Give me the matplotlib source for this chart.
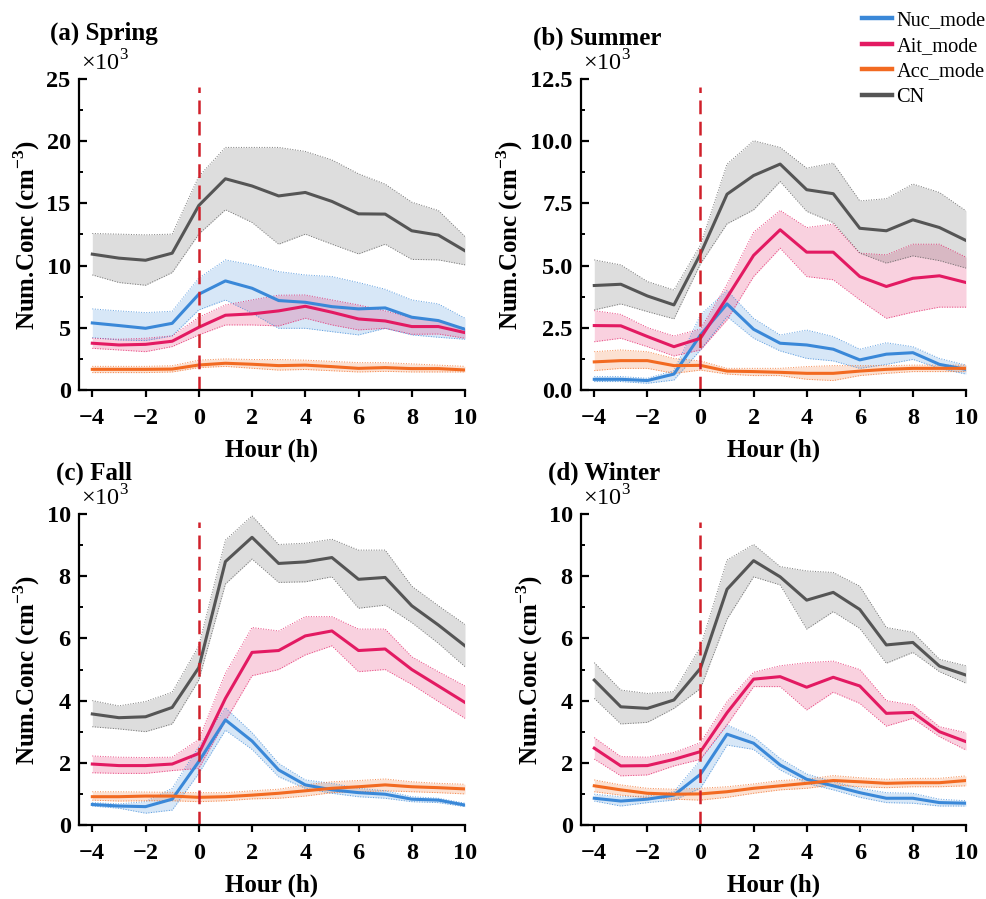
import numpy as np
import matplotlib
matplotlib.use("Agg")
import matplotlib.pyplot as plt
from matplotlib.lines import Line2D
from matplotlib.ticker import MultipleLocator, FormatStrFormatter

plt.rcParams["font.family"] = ["Liberation Serif", "DejaVu Serif"]
plt.rcParams["mathtext.fontset"] = "custom"
plt.rcParams["mathtext.rm"] = "Liberation Serif"
plt.rcParams["mathtext.bf"] = "Liberation Serif:bold"

hours = [-4, -3, -2, -1, 0, 1, 2, 3, 4, 5, 6, 7, 8, 9, 10]
modes = ["Nuc_mode", "Ait_mode", "Acc_mode", "CN"]
colors = ["#3a88d8", "#e31a62", "#f26a21", "#555555"]

# values in 10^3 cm^-3 : mean, lower, upper
# (a) Spring
spring_nuc = [5.39, 5.18, 4.96, 5.36, 7.70, 8.77, 8.18, 7.19, 7.05, 6.70, 6.52, 6.60, 5.85, 5.58, 4.88]
spring_nuc_lo = [4.21, 4.02, 3.97, 4.35, 6.44, 7.24, 6.17, 4.96, 4.96, 4.69, 4.43, 4.96, 4.43, 4.24, 4.08]
spring_nuc_hi = [6.52, 6.36, 6.22, 6.33, 8.99, 10.46, 10.06, 9.52, 9.25, 9.12, 8.64, 8.10, 7.24, 6.92, 5.77]
spring_ait = [3.76, 3.62, 3.67, 3.92, 5.04, 6.01, 6.12, 6.36, 6.73, 6.25, 5.71, 5.55, 5.10, 5.10, 4.61]
spring_ait_lo = [3.35, 3.22, 3.08, 3.49, 4.43, 5.23, 5.23, 5.15, 5.77, 5.23, 4.83, 4.96, 4.48, 4.50, 4.16]
spring_ait_hi = [4.16, 4.08, 4.16, 4.35, 5.85, 6.84, 7.24, 7.62, 7.64, 7.24, 6.84, 6.36, 5.82, 5.55, 4.96]
spring_acc = [1.66, 1.66, 1.66, 1.68, 2.01, 2.15, 2.07, 1.96, 2.00, 1.88, 1.74, 1.80, 1.72, 1.72, 1.61]
spring_acc_lo = [1.40, 1.40, 1.40, 1.45, 1.80, 1.90, 1.75, 1.60, 1.65, 1.55, 1.45, 1.50, 1.45, 1.45, 1.45]
spring_acc_hi = [1.90, 1.90, 1.90, 1.95, 2.40, 2.50, 2.45, 2.45, 2.40, 2.30, 2.20, 2.20, 2.10, 2.00, 1.90]
spring_cn = [10.92, 10.60, 10.43, 11.00, 14.83, 16.98, 16.40, 15.60, 15.88, 15.16, 14.16, 14.14, 12.80, 12.45, 11.19]
spring_cn_lo = [9.25, 8.64, 8.42, 9.44, 12.53, 14.49, 13.47, 11.72, 12.53, 11.72, 10.94, 11.72, 10.50, 10.46, 10.06]
spring_cn_hi = [12.58, 12.53, 12.47, 12.53, 17.17, 19.50, 19.50, 19.50, 19.18, 18.50, 17.38, 16.55, 15.10, 14.43, 12.34]

# (b) Summer
summer_nuc = [0.43, 0.43, 0.38, 0.64, 2.21, 3.46, 2.44, 1.88, 1.81, 1.64, 1.21, 1.44, 1.50, 1.03, 0.83]
summer_nuc_lo = [0.34, 0.34, 0.27, 0.40, 1.61, 2.95, 2.08, 1.57, 1.27, 1.17, 0.87, 1.03, 1.23, 0.87, 0.64]
summer_nuc_hi = [0.54, 0.54, 0.47, 0.78, 3.02, 4.00, 2.88, 2.21, 2.41, 2.15, 1.64, 1.90, 1.74, 1.27, 1.00]
summer_ait = [2.59, 2.58, 2.15, 1.74, 2.08, 3.72, 5.41, 6.44, 5.54, 5.54, 4.56, 4.16, 4.49, 4.59, 4.32]
summer_ait_lo = [1.94, 2.08, 1.74, 1.37, 1.61, 2.82, 4.56, 5.70, 4.56, 4.43, 3.62, 2.88, 3.13, 3.33, 3.33]
summer_ait_hi = [3.19, 3.04, 2.51, 2.17, 2.45, 4.25, 6.34, 7.22, 6.53, 6.67, 5.50, 5.43, 5.86, 5.86, 5.34]
summer_acc = [1.13, 1.18, 1.18, 0.98, 0.99, 0.76, 0.74, 0.71, 0.67, 0.67, 0.76, 0.83, 0.87, 0.87, 0.87]
summer_acc_lo = [0.78, 0.87, 0.87, 0.67, 0.80, 0.64, 0.58, 0.58, 0.43, 0.38, 0.58, 0.67, 0.74, 0.74, 0.74]
summer_acc_hi = [1.54, 1.61, 1.54, 1.27, 1.17, 0.87, 0.87, 0.87, 0.94, 0.98, 0.98, 0.98, 1.00, 1.00, 1.00]
summer_cn = [4.20, 4.25, 3.78, 3.42, 5.47, 7.87, 8.62, 9.08, 8.05, 7.89, 6.50, 6.40, 6.84, 6.53, 6.01]
summer_cn_lo = [3.22, 3.46, 3.15, 2.86, 5.07, 6.68, 7.24, 8.38, 7.18, 6.73, 5.50, 5.10, 5.39, 5.20, 4.90]
summer_cn_hi = [5.23, 5.03, 4.36, 4.02, 5.83, 9.08, 10.02, 9.75, 8.92, 9.12, 7.60, 7.69, 8.28, 7.94, 7.20]

# (c) Fall
fall_nuc = [0.66, 0.61, 0.59, 0.83, 2.04, 3.38, 2.70, 1.77, 1.29, 1.13, 1.04, 0.99, 0.83, 0.80, 0.64]
fall_nuc_lo = [0.61, 0.54, 0.38, 0.48, 1.66, 3.05, 2.43, 1.55, 1.18, 1.02, 0.91, 0.86, 0.75, 0.72, 0.59]
fall_nuc_hi = [0.72, 0.68, 0.75, 1.18, 2.52, 3.77, 2.97, 1.98, 1.45, 1.34, 1.18, 1.10, 0.91, 0.86, 0.70]
fall_ait = [1.96, 1.91, 1.91, 1.96, 2.30, 4.07, 5.55, 5.61, 6.08, 6.24, 5.61, 5.66, 5.00, 4.47, 3.94]
fall_ait_lo = [1.68, 1.66, 1.66, 1.75, 1.82, 3.34, 4.80, 5.00, 5.47, 5.76, 4.93, 5.00, 4.52, 3.97, 3.43]
fall_ait_hi = [2.22, 2.18, 2.17, 2.18, 2.75, 4.88, 6.35, 6.24, 6.70, 6.70, 6.30, 6.30, 5.41, 4.93, 4.47]
fall_acc = [0.91, 0.91, 0.93, 0.93, 0.89, 0.91, 0.96, 1.02, 1.10, 1.18, 1.23, 1.29, 1.23, 1.20, 1.16]
fall_acc_lo = [0.80, 0.77, 0.78, 0.78, 0.75, 0.78, 0.84, 0.86, 0.93, 1.04, 1.07, 1.10, 1.07, 1.04, 1.00]
fall_acc_hi = [1.07, 1.07, 1.06, 1.05, 1.04, 1.04, 1.10, 1.15, 1.29, 1.39, 1.43, 1.48, 1.39, 1.34, 1.31]
fall_cn = [3.57, 3.45, 3.48, 3.78, 5.06, 8.47, 9.25, 8.41, 8.46, 8.60, 7.90, 7.96, 7.05, 6.43, 5.76]
fall_cn_lo = [3.16, 3.09, 3.00, 3.25, 4.66, 7.75, 8.55, 7.80, 7.82, 7.98, 6.97, 7.07, 6.51, 5.84, 5.09]
fall_cn_hi = [4.00, 3.83, 3.97, 4.27, 5.76, 9.16, 9.94, 9.02, 9.06, 9.19, 8.84, 8.84, 7.68, 7.05, 6.45]

# (d) Winter
winter_nuc = [0.86, 0.77, 0.83, 0.96, 1.63, 2.92, 2.63, 1.93, 1.47, 1.26, 1.04, 0.86, 0.86, 0.72, 0.70]
winter_nuc_lo = [0.77, 0.61, 0.72, 0.80, 1.18, 2.57, 2.43, 1.77, 1.34, 1.13, 0.89, 0.72, 0.70, 0.61, 0.61]
winter_nuc_hi = [0.99, 0.91, 0.93, 1.07, 2.09, 3.22, 2.84, 2.14, 1.64, 1.39, 1.18, 1.04, 1.02, 0.83, 0.78]
winter_ait = [2.47, 1.90, 1.91, 2.11, 2.36, 3.61, 4.69, 4.77, 4.43, 4.75, 4.47, 3.59, 3.62, 3.00, 2.68]
winter_ait_lo = [2.12, 1.58, 1.61, 1.90, 2.11, 3.22, 4.45, 4.45, 3.70, 4.27, 3.91, 3.18, 3.43, 2.84, 2.41]
winter_ait_hi = [2.81, 2.20, 2.18, 2.33, 2.65, 3.97, 4.91, 5.12, 5.22, 5.27, 5.00, 4.00, 3.86, 3.16, 2.97]
winter_acc = [1.26, 1.13, 1.02, 0.99, 1.00, 1.07, 1.18, 1.26, 1.34, 1.43, 1.39, 1.34, 1.36, 1.36, 1.43]
winter_acc_lo = [1.07, 0.96, 0.88, 0.83, 0.80, 0.89, 1.02, 1.13, 1.18, 1.29, 1.23, 1.20, 1.23, 1.23, 1.26]
winter_acc_hi = [1.45, 1.29, 1.18, 1.15, 1.18, 1.23, 1.32, 1.43, 1.47, 1.59, 1.52, 1.47, 1.50, 1.50, 1.58]
winter_cn = [4.66, 3.80, 3.75, 4.02, 5.04, 7.58, 8.50, 7.98, 7.23, 7.48, 6.93, 5.79, 5.87, 5.11, 4.82]
winter_cn_lo = [4.07, 3.25, 3.30, 3.75, 4.39, 6.62, 7.98, 7.72, 6.30, 6.86, 6.32, 5.20, 5.55, 4.93, 4.56]
winter_cn_hi = [5.22, 4.34, 4.23, 4.29, 5.73, 8.52, 9.02, 8.31, 8.17, 8.12, 7.68, 6.35, 6.20, 5.33, 5.12]

titles = ["(a) Spring", "(b) Summer", "(c) Fall", "(d) Winter"]
y_max = [25, 12.5, 10, 10]
y_step = [5, 2.5, 2, 2]
y_fmt = ["%d", "%.1f", "%d", "%d"]

seasons = [
    [(spring_nuc, spring_nuc_lo, spring_nuc_hi), (spring_ait, spring_ait_lo, spring_ait_hi),
     (spring_acc, spring_acc_lo, spring_acc_hi), (spring_cn, spring_cn_lo, spring_cn_hi)],
    [(summer_nuc, summer_nuc_lo, summer_nuc_hi), (summer_ait, summer_ait_lo, summer_ait_hi),
     (summer_acc, summer_acc_lo, summer_acc_hi), (summer_cn, summer_cn_lo, summer_cn_hi)],
    [(fall_nuc, fall_nuc_lo, fall_nuc_hi), (fall_ait, fall_ait_lo, fall_ait_hi),
     (fall_acc, fall_acc_lo, fall_acc_hi), (fall_cn, fall_cn_lo, fall_cn_hi)],
    [(winter_nuc, winter_nuc_lo, winter_nuc_hi), (winter_ait, winter_ait_lo, winter_ait_hi),
     (winter_acc, winter_acc_lo, winter_acc_hi), (winter_cn, winter_cn_lo, winter_cn_hi)],
]

W, H = 987, 899
fig = plt.figure(figsize=(W / 100, H / 100), dpi=100)

# axes boxes in pixels: left, right, top, bottom
boxes = [(79, 465, 79, 390), (581, 966, 79, 390), (79, 465, 514, 825), (581, 966, 514, 825)]
title_pos = [(50, 33), (533, 38), (56, 473), (548, 473)]
ylab_x = [27, 510, 27, 530]

x = np.array(hours)
for i, ax_data in enumerate(seasons):
    l, r, t, b = boxes[i]
    ax = fig.add_axes([l / W, 1 - b / H, (r - l) / W, (b - t) / H])
    for j, (m, lo, hi) in enumerate(ax_data):
        c = colors[j]
        ax.fill_between(x, lo, hi, color=c, alpha=0.2, lw=0)
        ax.plot(x, lo, color=c, lw=0.7, ls=":", alpha=0.8)
        ax.plot(x, hi, color=c, lw=0.7, ls=":", alpha=0.8)
    for j, (m, lo, hi) in enumerate(ax_data):
        ax.plot(x, m, color=colors[j], lw=2.2, label=modes[j])
    ax.axvline(0, ymin=0, ymax=0.975, color="#d0202a", lw=1.8, ls=(0, (5.5, 3)))

    ax.set_xlim(-4.5, 10)
    ax.set_ylim(0, y_max[i])
    ax.xaxis.set_major_locator(MultipleLocator(2))
    ax.yaxis.set_major_locator(MultipleLocator(y_step[i]))
    ax.yaxis.set_minor_locator(MultipleLocator(y_step[i] / 2))
    ax.yaxis.set_major_formatter(FormatStrFormatter(y_fmt[i]))
    ax.spines["top"].set_visible(False)
    ax.spines["right"].set_visible(False)
    for s in ["left", "bottom"]:
        ax.spines[s].set_linewidth(1.6)
    ax.tick_params(axis="x", direction="out", length=5, width=1.6, pad=8, labelsize=17.5)
    ax.tick_params(axis="y", which="major", direction="in", length=6, width=1.6, pad=6, labelsize=17.5)
    ax.tick_params(axis="y", which="minor", direction="in", length=3, width=1.4)
    for lab in ax.get_xticklabels() + ax.get_yticklabels():
        lab.set_fontweight("bold")
    ax.set_xlabel("Hour (h)", fontsize=18, fontweight="bold", labelpad=7)
    ax.text(0.005, 1.012, r"$\times10^{3}$", transform=ax.transAxes, ha="left", va="bottom", fontsize=17.5)

    fig.text(title_pos[i][0] / W, 1 - title_pos[i][1] / H, titles[i],
             ha="left", va="center", fontsize=18, fontweight="bold")
    fig.text(ylab_x[i] / W, 1 - ((t + b) / 2) / H, r"Num.Conc (cm$^{\mathbf{-3}}$)",
             rotation=90, ha="center", va="center", fontsize=18, fontweight="bold")

handles = [Line2D([], [], color=c, lw=3.2) for c in colors]
fig.legend(handles=handles, labels=modes, loc="upper right", bbox_to_anchor=(1.01, 1.0),
           frameon=False, fontsize=14.7, handlelength=1.5, handletextpad=0.2, labelspacing=0.3,
           borderaxespad=0.15)

fig.savefig("out.png", dpi=100)
